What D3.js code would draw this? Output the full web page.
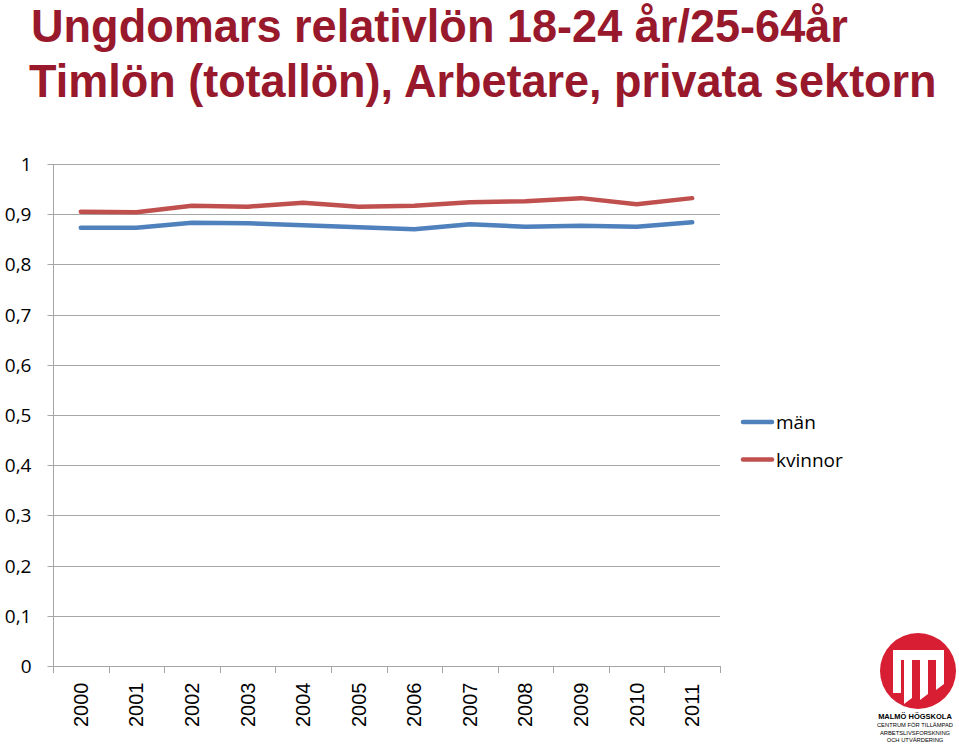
<!DOCTYPE html>
<html><head><meta charset="utf-8">
<script src="https://cdn.jsdelivr.net/npm/d3@7"></script>
<style>body{margin:0;background:#fff}svg{display:block}</style>
</head><body>
<script>
const years = ["2000","2001","2002","2003","2004","2005","2006","2007","2008","2009","2010","2011"];
const man = [0.873,0.873,0.883,0.882,0.878,0.874,0.870,0.880,0.875,0.877,0.875,0.884];
const kvinnor = [0.905,0.904,0.917,0.915,0.923,0.915,0.917,0.924,0.926,0.932,0.920,0.932];
const yTicks = [0,0.1,0.2,0.3,0.4,0.5,0.6,0.7,0.8,0.9,1];
const seriesNames = ["män","kvinnor"];
const titleLines = ["Ungdomars relativlön 18-24 år/25-64år","Timlön (totallön), Arbetare, privata sektorn"];

const W=959,H=746;
const svg=d3.select("body").append("svg").attr("width",W).attr("height",H);
const x=d3.scaleBand().domain(years).range([53,720]);
const y=d3.scaleLinear().domain([0,1]).range([666,164]);

// title (horizontally condensed to fit like the narrow original font)
const tf="'Liberation Sans',Arial,sans-serif";
[[titleLines[0],31,42,817],[titleLines[1],29,97,908]].forEach(([t,tx,ty,tw])=>{
  const el=svg.append("text").attr("x",0).attr("y",0).attr("font-family",tf).attr("font-weight","bold")
    .attr("font-size",47).attr("fill","#98182C").text(t);
  const len=el.node().getComputedTextLength();
  el.attr("transform",`translate(${tx},${ty}) scale(${tw/len},1)`);
});

// grid
svg.append("g").selectAll("line").data(yTicks).join("line")
  .attr("x1",53).attr("x2",720).attr("y1",d=>Math.round(y(d))+0.5).attr("y2",d=>Math.round(y(d))+0.5)
  .attr("stroke","#A6A6A6").attr("stroke-width",1);

// y axis
const yAxis=d3.axisLeft(y).tickValues(yTicks).tickSize(6).tickFormat(d=>d===0?"0":d===1?"1":d3.format(".1f")(d).replace(".",","));
const ga=svg.append("g").attr("transform","translate(53.5,0)").call(yAxis);
ga.select(".domain").attr("stroke","#A6A6A6").attr("d","M0,164V666");
ga.selectAll(".tick line").attr("stroke","#A6A6A6");
ga.selectAll(".tick text").attr("font-family","'Open Sans','Liberation Sans',sans-serif").attr("font-size",19).attr("fill","#000").attr("x",-22);
ga.selectAll(".tick").attr("transform",d=>`translate(0,${Math.round(y(d))+0.5})`);

// x axis
const xg=svg.append("g");
xg.append("line").attr("x1",53).attr("x2",720).attr("y1",666.5).attr("y2",666.5).attr("stroke","#A6A6A6");
xg.selectAll("line.t").data(years.concat(["end"])).join("line").attr("class","t")
  .attr("x1",(d,i)=>Math.round(53+i*x.bandwidth())+0.5).attr("x2",(d,i)=>Math.round(53+i*x.bandwidth())+0.5)
  .attr("y1",666).attr("y2",673).attr("stroke","#A6A6A6");
xg.selectAll("text").data(years).join("text")
  .attr("transform",d=>`translate(${x(d)+x.bandwidth()/2+7},727) rotate(-90)`)
  .attr("font-family","'Liberation Sans',Arial,sans-serif").attr("font-size",20).attr("fill","#000").text(d=>d);

// lines
const line=d3.line().x((d,i)=>x(years[i])+x.bandwidth()/2).y(d=>y(d));
svg.append("path").datum(kvinnor).attr("d",line).attr("fill","none").attr("stroke","#C0504D").attr("stroke-width",4.5).attr("stroke-linejoin","round").attr("stroke-linecap","round");
svg.append("path").datum(man).attr("d",line).attr("fill","none").attr("stroke","#4F81BD").attr("stroke-width",4.5).attr("stroke-linejoin","round").attr("stroke-linecap","round");

// legend
const colors=["#4F81BD","#C0504D"];
const lg=svg.append("g");
seriesNames.forEach((n,i)=>{
  const yy=422+i*37.5;
  lg.append("line").attr("x1",743).attr("x2",772).attr("y1",yy).attr("y2",yy).attr("stroke",colors[i]).attr("stroke-width",4.5).attr("stroke-linecap","round");
  lg.append("text").attr("x",776).attr("y",yy+7).attr("font-family","'Open Sans','Liberation Sans',sans-serif").attr("font-size",19).attr("fill","#000").text(n);
});

// logo
const logo=svg.append("g");
logo.append("circle").attr("cx",918).attr("cy",671).attr("r",38).attr("fill","#D71E32");
logo.append("path").attr("fill","#fff").attr("d",
 "M893,693 L893,650 L944,650 L944,684 L936,690 L936,660 L928,660 L928,694 L920,700 L920,660 L912,660 L912,698 L904,704 L904,660 L901,660 L901,693 Z");
logo.append("path").attr("fill","#fff").attr("d","M906,663 L910,663 L910,696 L906,699 Z M922,663 L926,663 L926,690 L922,694 Z");
const lt=[["MALMÖ HÖGSKOLA",719,7.5,"bold"],["CENTRUM FÖR TILLÄMPAD",727,5.8,"normal"],["ARBETSLIVSFORSKNING",735,5.8,"normal"],["OCH UTVÄRDERING",742,5.8,"normal"]];
lt.forEach(t=>logo.append("text").attr("x",915).attr("y",t[1]).attr("text-anchor","middle").attr("font-family","'Liberation Sans',Arial,sans-serif").attr("font-size",t[2]).attr("font-weight",t[3]).attr("fill","#000").text(t[0]));
</script>
</body></html>
